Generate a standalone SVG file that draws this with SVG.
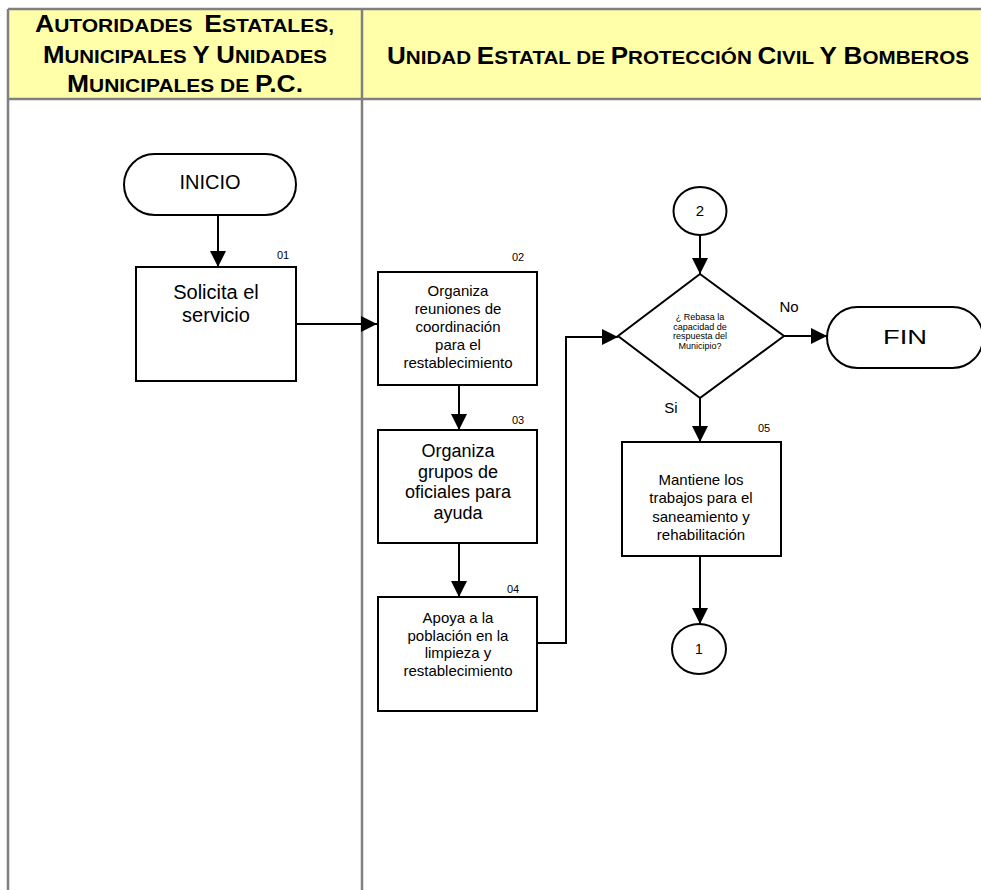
<svg xmlns="http://www.w3.org/2000/svg" width="981" height="890" viewBox="0 0 981 890">
<style>
text{font-family:"Liberation Sans",Arial,sans-serif;fill:#000}
.hd{font-weight:bold}
.b{font-size:24px}
.s{font-size:19px}
.box{fill:#fff;stroke:#000;stroke-width:2}
.lane{stroke:#808080;stroke-width:2.5;fill:none}
.c{stroke:#000;stroke-width:2;fill:none}
.num{font-size:11px}
.t20{font-size:20px;text-anchor:middle}
.t18{font-size:18px;text-anchor:middle}
.t15{font-size:15px;text-anchor:middle}
.t9{font-size:9px;text-anchor:middle}
</style>
<defs>
<marker id="ah" markerUnits="userSpaceOnUse" markerWidth="16" markerHeight="16" refX="16" refY="8" orient="auto" viewBox="0 0 16 16">
<path d="M0,0 L16,8 L0,16 z" fill="#000"/>
</marker>
</defs>
<rect x="0" y="0" width="981" height="890" fill="#fff"/>
<g id="lanes">
<rect x="8" y="9" width="975" height="90" fill="#FFFFAA"/>
<line class="lane" x1="8" y1="9" x2="981" y2="9"/>
<line class="lane" x1="8" y1="99" x2="981" y2="99"/>
<line class="lane" x1="8" y1="9" x2="8" y2="890"/>
<line class="lane" x1="362" y1="9" x2="362" y2="890"/>
<text class="hd" x="35" y="32" textLength="299" lengthAdjust="spacingAndGlyphs"><tspan class="b">A</tspan><tspan class="s">UTORIDADES&#160; </tspan><tspan class="b">E</tspan><tspan class="s">STATALES,</tspan></text>
<text class="hd" x="43" y="63" textLength="284" lengthAdjust="spacingAndGlyphs"><tspan class="b">M</tspan><tspan class="s">UNICIPALES </tspan><tspan class="b">Y U</tspan><tspan class="s">NIDADES</tspan></text>
<text class="hd" x="67" y="92" textLength="236" lengthAdjust="spacingAndGlyphs"><tspan class="b">M</tspan><tspan class="s">UNICIPALES DE </tspan><tspan class="b">P.C.</tspan></text>
<text class="hd" x="387" y="64" textLength="582" lengthAdjust="spacingAndGlyphs"><tspan class="b">U</tspan><tspan class="s">NIDAD </tspan><tspan class="b">E</tspan><tspan class="s">STATAL DE </tspan><tspan class="b">P</tspan><tspan class="s">ROTECCIÓN </tspan><tspan class="b">C</tspan><tspan class="s">IVIL </tspan><tspan class="b">Y B</tspan><tspan class="s">OMBEROS</tspan></text>
</g>
<g id="connectors">
<line class="c" x1="218" y1="215" x2="218" y2="267" marker-end="url(#ah)"/>
<line class="c" x1="296" y1="324" x2="377" y2="324" marker-end="url(#ah)"/>
<line class="c" x1="459" y1="385" x2="459" y2="430" marker-end="url(#ah)"/>
<line class="c" x1="459" y1="543" x2="459" y2="597" marker-end="url(#ah)"/>
<polyline class="c" points="537,643 566,643 566,337 618,337" marker-end="url(#ah)"/>
<line class="c" x1="700" y1="235" x2="700" y2="274" marker-end="url(#ah)"/>
<line class="c" x1="784" y1="336" x2="827" y2="336" marker-end="url(#ah)"/>
<line class="c" x1="700" y1="398" x2="700" y2="442" marker-end="url(#ah)"/>
<line class="c" x1="700" y1="556" x2="700" y2="624" marker-end="url(#ah)"/>
<text x="789" y="312" style="font-size:15px;text-anchor:middle">No</text>
<text x="671" y="413" style="font-size:15px;text-anchor:middle">Si</text>
</g>
<g id="inicio">
<rect class="box" x="124" y="154" width="172" height="61" rx="30.5"/>
<text class="t20" x="210" y="189">INICIO</text>
</g>
<g id="n01">
<rect class="box" x="136" y="267" width="160" height="114"/>
<text class="num" x="277" y="259">01</text>
<text class="t20" x="216" y="299">Solicita el</text>
<text class="t20" x="216" y="322">servicio</text>
</g>
<g id="n02">
<rect class="box" x="378" y="272" width="159" height="113"/>
<text class="num" x="512" y="261">02</text>
<text class="t15" x="458" y="296">Organiza</text>
<text class="t15" x="458" y="314">reuniones de</text>
<text class="t15" x="458" y="332">coordinación</text>
<text class="t15" x="458" y="350">para el</text>
<text class="t15" x="458" y="368">restablecimiento</text>
</g>
<g id="n03">
<rect class="box" x="378" y="430" width="159" height="113"/>
<text class="num" x="512" y="424">03</text>
<text class="t18" x="458" y="457">Organiza</text>
<text class="t18" x="458" y="478">grupos de</text>
<text class="t18" x="458" y="498">oficiales para</text>
<text class="t18" x="458" y="519">ayuda</text>
</g>
<g id="n04">
<rect class="box" x="378" y="597" width="159" height="114"/>
<text class="num" x="507" y="593">04</text>
<text class="t15" x="458" y="623">Apoya a la</text>
<text class="t15" x="458" y="641">población en la</text>
<text class="t15" x="458" y="658">limpieza y</text>
<text class="t15" x="458" y="676">restablecimiento</text>
</g>
<g id="c2">
<ellipse class="box" cx="700" cy="211" rx="26.5" ry="24"/>
<text x="700" y="216" style="font-size:15px;text-anchor:middle">2</text>
</g>
<g id="decision">
<polygon class="box" points="700,274 784,336 700,398 618,336"/>
<text class="t9" x="700" y="320">¿ Rebasa la</text>
<text class="t9" x="700" y="329.5">capacidad de</text>
<text class="t9" x="700" y="339">respuesta del</text>
<text class="t9" x="700" y="348.5">Municipio?</text>
</g>
<g id="fin">
<rect class="box" x="827" y="307" width="156" height="61" rx="30.5"/>
<text x="883" y="344" style="font-size:20px" textLength="44" lengthAdjust="spacingAndGlyphs">FIN</text>
</g>
<g id="n05">
<rect class="box" x="622" y="442" width="159" height="114"/>
<text class="num" x="758" y="432">05</text>
<text class="t15" x="701" y="485">Mantiene los</text>
<text class="t15" x="701" y="503">trabajos para el</text>
<text class="t15" x="701" y="522">saneamiento y</text>
<text class="t15" x="701" y="540">rehabilitación</text>
</g>
<g id="c1">
<ellipse class="box" cx="699" cy="649" rx="27" ry="25"/>
<text x="699" y="654" style="font-size:14px;text-anchor:middle">1</text>
</g>
</svg>
